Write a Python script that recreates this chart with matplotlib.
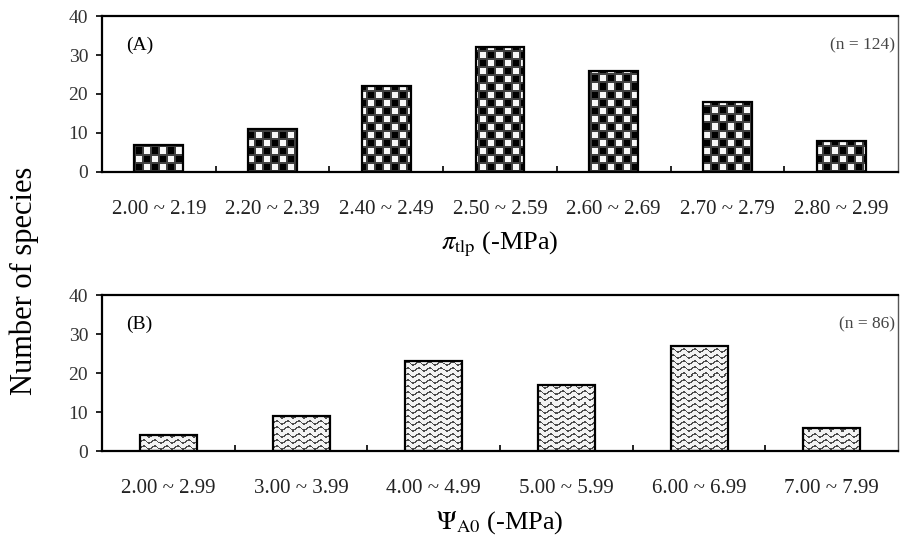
import numpy as np
import matplotlib
matplotlib.use('Agg')
import matplotlib.pyplot as plt
from matplotlib.ticker import FixedLocator

plt.rcParams['font.family'] = ['Liberation Serif', 'DejaVu Serif']
plt.rcParams['mathtext.fontset'] = 'stix'

# panel A: turgor loss point classes
cats_a = ['2.00 ~ 2.19', '2.20 ~ 2.39', '2.40 ~ 2.49', '2.50 ~ 2.59',
          '2.60 ~ 2.69', '2.70 ~ 2.79', '2.80 ~ 2.99']
vals_a = [7, 11, 22, 32, 26, 18, 8]
# panel B: full-turgor osmotic potential classes
cats_b = ['2.00 ~ 2.99', '3.00 ~ 3.99', '4.00 ~ 4.99', '5.00 ~ 5.99',
          '6.00 ~ 6.99', '7.00 ~ 7.99']
vals_b = [4, 9, 23, 17, 27, 6]

W, H = 796, 156  # axes size in px (dpi 100)


def checker_tex():
    yy, xx = np.mgrid[0:H, 0:W]
    c = 8
    img = (((xx // c) + (yy // c)) % 2).astype(float) * 0.97
    border = (xx % c < 2) | (yy % c < 2)
    img[border] = 0.25
    return img


def wave_tex():
    yy, xx = np.mgrid[0:H, 0:W].astype(float)
    s, amp, per = 6.0, 1.6, 11.0
    d = (yy + amp * np.sin(2 * np.pi * xx / per)) % s
    img = np.full((H, W), 0.95)
    img[np.abs(d - s / 2) < 0.75] = 0.3
    return img


def panel(ax, cats, vals, tex, tag, ntxt, xlab):
    x = np.arange(len(cats))
    bars = ax.bar(x, vals, width=0.43, facecolor='none', edgecolor='black',
                  linewidth=1.6, zorder=3)
    for b in bars:
        im = ax.imshow(tex, cmap='gray', vmin=0, vmax=1, aspect='auto',
                       interpolation='nearest', origin='lower',
                       extent=(-0.5, len(cats) - 0.5, 0, 40), zorder=2)
        im.set_clip_path(b)
    ax.set_xlim(-0.5, len(cats) - 0.5)
    ax.set_ylim(0, 40)
    ax.set_yticks([0, 10, 20, 30, 40])
    ax.set_xticks(x)
    ax.set_xticklabels(cats, fontsize=15, color='#222')
    ax.xaxis.set_minor_locator(FixedLocator(x[:-1] + 0.5))
    ax.tick_params(axis='x', which='major', length=0, pad=20)
    ax.tick_params(axis='x', which='minor', direction='in', length=4, width=1.2)
    ax.tick_params(axis='y', direction='out', length=4, width=1.2,
                   labelsize=14, labelcolor='#333', pad=6)
    for sp in ax.spines.values():
        sp.set_linewidth(1.6)
    ax.spines['right'].set_linewidth(1.0)
    ax.spines['right'].set_color('#555')
    ax.text(0.03, 0.87, tag, transform=ax.transAxes, ha='left', va='top',
            fontsize=14)
    ax.text(0.996, 0.86, ntxt, transform=ax.transAxes, ha='right', va='top',
            fontsize=12.5, color='#444')
    ax.set_xlabel(xlab, fontsize=19, labelpad=8)


fig = plt.figure(figsize=(9.03, 5.5), dpi=100)
ax1 = fig.add_axes([0.113, 0.6873, 0.8815, 0.2836])
ax2 = fig.add_axes([0.113, 0.18, 0.8815, 0.2836])
panel(ax1, cats_a, vals_a, checker_tex(), '(A)', '(n = 124)',
      r'$\pi_{\rm tlp}$ (-MPa)')
panel(ax2, cats_b, vals_b, wave_tex(), '(B)', '(n = 86)',
      r'$\Psi_{\rm A0}$ (-MPa)')
fig.text(0.027, 0.49, 'Number of species', rotation=90, ha='center',
         va='center', fontsize=22)

fig.savefig('out.png', dpi=100)
